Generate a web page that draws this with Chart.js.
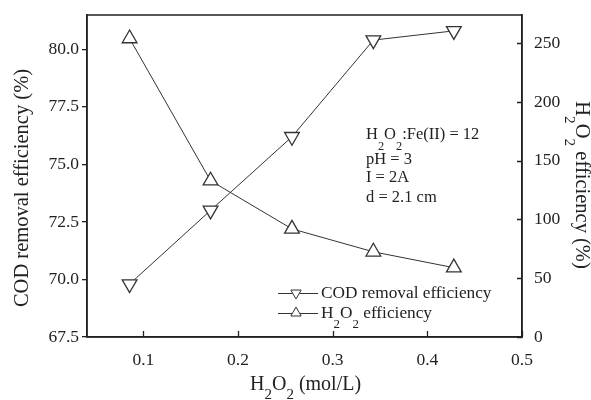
<!DOCTYPE html>
<html>
<head>
<meta charset="utf-8">
<script src="https://cdn.jsdelivr.net/npm/chart.js@4.4.1/dist/chart.umd.min.js"></script>
<style>
  html, body { margin: 0; padding: 0; background: #fff; }
</style>
</head>
<body>
<canvas id="chart" width="591" height="400"></canvas>
<script>
// values
const h2o2Dose = [0.0855, 0.171, 0.257, 0.343, 0.428];
const codRemoval = [69.8, 73.0, 76.2, 80.4, 80.8];
const h2o2Efficiency = [254, 133, 92, 72.5, 59];
const xTicks = [0.1, 0.2, 0.3, 0.4, 0.5];
const leftTicks = [67.5, 70, 72.5, 75, 77.5, 80];
const rightTicks = [0, 50, 100, 150, 200, 250];
const seriesNames = ["COD removal efficiency", "H_2O_2 efficiency"];
const notes = ["H_2O_2:Fe(II) = 12", "pH = 3", "I = 2A", "d = 2.1 cm"];
const xTitle = "H_2O_2 (mol/L)";
const leftTitle = "COD removal efficiency (%)";
const rightTitle = "H_2O_2 efficiency (%)";

const FONT = '"Liberation Serif", "Times New Roman", serif';
const INK = "#222";

// "_2" means subscript 2
function parse(str) {
  const parts = [];
  let buf = "";
  for (let i = 0; i < str.length; i++) {
    if (str[i] === "_" && i + 1 < str.length) {
      if (buf) parts.push({ t: buf, sub: false });
      buf = "";
      parts.push({ t: str[i + 1], sub: true });
      i++;
    } else buf += str[i];
  }
  if (buf) parts.push({ t: buf, sub: false });
  return parts;
}

function textWidth(ctx, str, size) {
  let w = 0;
  parse(str).forEach(p => {
    ctx.font = (p.sub ? size * 0.75 : size) + "px " + FONT;
    w += ctx.measureText(p.t).width;
  });
  return w;
}

function drawText(ctx, str, x, y, size, subDrop) {
  let cx = x;
  ctx.textBaseline = "alphabetic";
  ctx.textAlign = "left";
  parse(str).forEach(p => {
    ctx.font = (p.sub ? size * 0.75 : size) + "px " + FONT;
    ctx.fillText(p.t, cx, p.sub ? y + subDrop : y);
    cx += ctx.measureText(p.t).width;
  });
}

function triangle(ctx, x, y, r, down) {
  const s = down ? -1 : 1;
  ctx.beginPath();
  ctx.moveTo(x, y - s * r);
  ctx.lineTo(x + r * 0.866, y + s * r / 2);
  ctx.lineTo(x - r * 0.866, y + s * r / 2);
  ctx.closePath();
  ctx.fillStyle = "#fff";
  ctx.fill();
  ctx.stroke();
}

const decorations = {
  id: "decorations",
  afterDraw(chart) {
    const ctx = chart.ctx;
    const a = chart.chartArea;
    const sx = chart.scales.x, sr = chart.scales.y1;
    ctx.save();
    ctx.strokeStyle = INK;
    ctx.lineWidth = 1.5;
    ctx.strokeRect(a.left, a.top, a.right - a.left, a.bottom - a.top);

    // inward ticks on the bottom and right axes
    ctx.lineWidth = 1.3;
    ctx.beginPath();
    xTicks.forEach(v => {
      const px = Math.round(sx.getPixelForValue(v)) + 0.5;
      ctx.moveTo(px, a.bottom);
      ctx.lineTo(px, a.bottom - 6);
    });
    rightTicks.forEach(v => {
      const py = Math.round(sr.getPixelForValue(v)) + 0.5;
      ctx.moveTo(a.right, py);
      ctx.lineTo(a.right - 5, py);
    });
    ctx.stroke();

    ctx.fillStyle = INK;
    // axis titles
    drawText(ctx, xTitle, 250, 390, 20, 9);

    ctx.save();
    ctx.translate(28, 188);
    ctx.rotate(-Math.PI / 2);
    drawText(ctx, leftTitle, -textWidth(ctx, leftTitle, 20.5) / 2, 0, 20.5, 9);
    ctx.restore();

    ctx.save();
    ctx.translate(576, 185);
    ctx.rotate(Math.PI / 2);
    ctx.fillStyle = INK;
    drawText(ctx, rightTitle, -textWidth(ctx, rightTitle, 20.5) / 2, 0, 20.5, 11);
    ctx.restore();

    // annotation
    const noteY = [139, 163.5, 182, 202];
    notes.forEach((n, i) => {
      ctx.fillStyle = INK;
      drawText(ctx, n, 366, noteY[i], 16.5, 11);
    });

    // legend
    const rows = [293, 313];
    chart.data.datasets.forEach((ds, i) => {
      const y = rows[i];
      ctx.strokeStyle = ds.borderColor;
      ctx.lineWidth = 1;
      ctx.beginPath();
      ctx.moveTo(278, y + 0.5);
      ctx.lineTo(318, y + 0.5);
      ctx.stroke();
      triangle(ctx, 296, y, 6, ds.pointRotation === 180);
      ctx.fillStyle = INK;
      drawText(ctx, seriesNames[i], 321, y + 4.5, 17.3, 10);
    });
    ctx.restore();
  }
};

const pts = ys => h2o2Dose.map((x, i) => ({ x: x, y: ys[i] }));
const fixTicks = list => scale => { scale.ticks = list.map(v => ({ value: v })); };

new Chart(document.getElementById("chart"), {
  type: "scatter",
  data: {
    datasets: [
      {
        label: seriesNames[0],
        data: pts(codRemoval),
        yAxisID: "y",
        showLine: true,
        borderColor: "#333",
        borderWidth: 1,
        pointStyle: "triangle",
        pointRotation: 180,
        pointRadius: 8.5,
        pointBorderWidth: 1.3,
        pointBackgroundColor: "#fff",
        pointBorderColor: "#333"
      },
      {
        label: seriesNames[1],
        data: pts(h2o2Efficiency),
        yAxisID: "y1",
        showLine: true,
        borderColor: "#333",
        borderWidth: 1,
        pointStyle: "triangle",
        pointRotation: 0,
        pointRadius: 8.5,
        pointBorderWidth: 1.3,
        pointBackgroundColor: "#fff",
        pointBorderColor: "#333"
      }
    ]
  },
  options: {
    responsive: false,
    animation: false,
    devicePixelRatio: 1,
    layout: { padding: { top: 15, left: 0, right: 0, bottom: 0 } },
    plugins: { legend: { display: false }, tooltip: { enabled: false } },
    scales: {
      x: {
        type: "linear",
        position: "bottom",
        min: 0.0405,
        max: 0.5,
        afterBuildTicks: fixTicks(xTicks),
        afterFit: s => { s.height = 63; },
        grid: { display: false },
        border: { display: true, color: INK, width: 1.5 },
        ticks: {
          color: INK,
          padding: 5,
          maxRotation: 0,
          font: { family: FONT, size: 17.5 },
          callback: v => v.toFixed(1)
        }
      },
      y: {
        type: "linear",
        position: "left",
        min: 67.5,
        max: 81.49,
        afterBuildTicks: fixTicks(leftTicks),
        afterFit: s => { s.width = 87; },
        grid: { display: true, drawOnChartArea: false, drawTicks: true, tickLength: 5, color: INK, lineWidth: 1.3 },
        border: { display: true, color: INK, width: 1.5 },
        ticks: {
          color: INK,
          padding: 3,
          font: { family: FONT, size: 17.5 },
          callback: v => v.toFixed(1)
        }
      },
      y1: {
        type: "linear",
        position: "right",
        min: 0,
        max: 274,
        afterBuildTicks: fixTicks(rightTicks),
        afterFit: s => { s.width = 69; },
        grid: { display: false },
        border: { display: true, color: INK, width: 1.5 },
        ticks: {
          color: INK,
          padding: 4,
          font: { family: FONT, size: 17.5 },
          callback: v => String(v)
        }
      }
    }
  },
  plugins: [decorations]
});
</script>
</body>
</html>
